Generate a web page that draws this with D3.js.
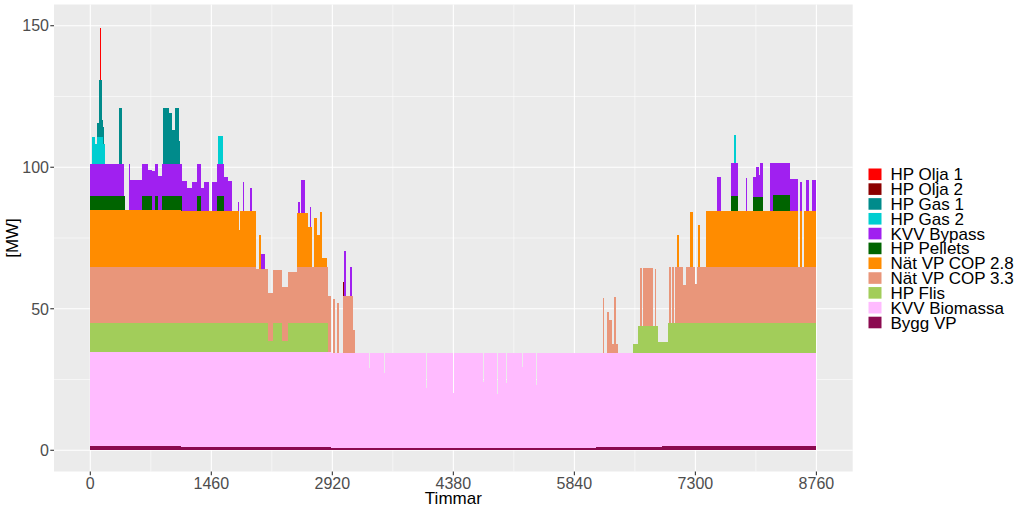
<!DOCTYPE html>
<html><head><meta charset="utf-8">
<script src="https://cdn.jsdelivr.net/npm/d3@7"></script>
<style>body{margin:0;background:#fff;} svg{display:block;font-family:"Liberation Sans",Arial,sans-serif;}</style>
</head><body><svg id="c" width="1024" height="512"></svg>
<script>
// ---- DATA: each series is a list of [hour, MW] steps (value holds until next step) ----
const seriesNames = ["Bygg VP","KVV Biomassa","HP Flis","Nät VP COP 3.3","Nät VP COP 2.8","HP Pellets","KVV Bypass","HP Gas 2","HP Gas 1","HP Olja 2","HP Olja 1"];
const seriesColors = ["#8B0A50","#FFBBFF","#A2CD5A","#E9967A","#FF8C00","#006400","#A020F0","#00CED1","#008B8B","#8B0000","#FF0000"];
const xTicks = [0,1460,2920,4380,5840,7300,8760];
const xMinor = [730,2190,3650,5110,6570,8030];
const yTicks = [0,50,100,150];
const yMinor = [25,75,125];

const byggVP = [[0,1.6],[1100,1.3],[2300,1.0],[2900,0.8],[6100,1.0],[6900,1.4]];
const kvvBiomassa = [[0,33.2],[1100,33.4],[2300,33.7],[2900,33.6],[3367,28.2],[3379,33.6],[3548,26.5],[3560,33.6],
  [4050,21.2],[4062,33.6],[4379,19.5],[4391,33.6],[4734,23.2],[4746,33.6],[4902,19.2],[4914,33.6],[5011,22.8],[5023,33.6],
  [5204,28.5],[5216,33.6],[5376,22.1],[5388,33.6],[6100,33.4],[6900,33.0]];
const hpFlis = [[0,10.2],[2140,4],[2200,10.2],[2310,4],[2380,10.2],[2865,0],[6548,3.3],[6610,9.6],[6850,3.9],[6970,10.4]];
const natVP33 = [[0,19.8],[2001,19.3],[2140,16.7],[2200,18.8],[2310,19.1],[2380,18.1],[2490,19.9],[2865,19.8],[2905,0],
  [2933,19.2],[2953,0],[2973,17.5],[3001,0],[3046,20.2],[3175,8],[3195,0],
  [6180,19.3],[6196,0],[6235,14.5],[6260,11.6],[6290,3],[6320,19.8],[6337,3],[6370,0],
  [6630,20.3],[6660,0],[6672,20.3],[6790,0],[6810,20],[6830,0],[6983,20],[7000,0],[7023,20],[7040,0],
  [7051,19.8],[7150,13.6],[7185,19.8],[7290,14],[7315,19.8]];
const natVP28 = [[0,20],[1790,13],[1802,20],[2001,0],[2030,11.8],[2060,0],[2491,19.2],[2632,14.2],[2672,0],[2700,17.2],
  [2732,11.2],[2772,19.5],[2793,3],[2853,0],
  [7080,11.5],[7100,0],[7230,19.7],[7270,0],[7330,15],[7350,0],[7425,20.1],[8540,0],[8560,20.1],[8590,0],[8610,20.1]];
const hpPellets = [[0,5.2],[422,0],[623,5.2],[744,0],[783,5.2],[812,0],[864,5.2],[1105,0],[1290,5.2],[1330,0],[1527,5.2],[1607,0],
  [7735,5.2],[7815,0],[7990,4.7],[8115,0],[8235,5.5],[8440,0]];
const kvvBypass = [[0,11.3],[402,0],[462,16.5],[482,10.6],[623,11.3],[700,9],[744,14],[783,11.3],[812,12],[864,11.3],
  [1105,10.6],[1165,8],[1225,10],[1290,11.3],[1330,8],[1374,10],[1426,0],[1466,10],[1527,11.3],[1607,12],[1667,10.6],
  [1708,0],[1776,3],[1788,0],[1840,10],[1860,0],[1928,8],[1953,0],[2060,5.3],[2110,0],[2510,3.8],[2530,0],[2545,11.5],
  [2592,0],[2652,7],[2665,0],[3065,15.9],[3082,0],[3134,10],[3154,0],
  [7555,11.8],[7615,0],[7735,11.5],[7815,0],[7905,11.4],[7925,0],[7990,7.3],[8035,10.8],[8065,8],[8075,12],[8115,0],
  [8205,16.9],[8235,11.4],[8440,11.1],[8540,0],[8560,10.2],[8590,0],[8630,10.8],[8665,0],[8705,10.8]];
const hpGas2 = [[20,9.4],[60,7],[84,9.4],[150,7],[181,0],[1539,10],[1600,0],[7765,10],[7795,0]];
const hpGas1 = [[80,4.8],[100,20.1],[141,6],[169,0],[341,19.8],[386,0],[876,19.8],[944,17.7],[985,12],[1025,19.5],[1065,8],[1085,0]];
const hpOlja2 = [[3046,5],[3062,0]];
const hpOlja1 = [[112,18.3],[129,0]];

const seriesData = [byggVP,kvvBiomassa,hpFlis,natVP33,natVP28,hpPellets,kvvBypass,hpGas2,hpGas1,hpOlja2,hpOlja1];
const hourMax = 8760, yMax = 150;

// ---- build table ----
function valueAt(arr, t){ let v = 0; for (const [h,val] of arr){ if (h <= t) v = val; else break; } return v; }
const bpSet = new Set([0]);
seriesData.forEach(a => a.forEach(([h]) => { if (h < hourMax) bpSet.add(h); }));
const bps = Array.from(bpSet).sort((a,b)=>a-b);
const rows = bps.map(t => { const r = {hour:t}; seriesNames.forEach((n,i)=> r[n] = valueAt(seriesData[i], t)); return r; });
const last = {hour:hourMax}; seriesNames.forEach((n,i)=> last[n] = valueAt(seriesData[i], hourMax-1e-6)); rows.push(last);

// ---- layout ----
const svg = d3.select("#c");
const P = {l:54, r:852.7, t:4.5, b:471.5};
const x = d3.scaleLinear().domain([-0.05*hourMax, 1.05*hourMax]).range([P.l, P.r]);
const y = d3.scaleLinear().domain([-0.05*yMax, 1.05*yMax]).range([P.b, P.t]);

svg.append("rect").attr("x",P.l).attr("y",P.t).attr("width",P.r-P.l).attr("height",P.b-P.t).attr("fill","#EBEBEB");
const g = svg.append("g");
yMinor.forEach(v=> g.append("line").attr("x1",P.l).attr("x2",P.r).attr("y1",y(v)).attr("y2",y(v)).attr("stroke","#fff").attr("stroke-width",0.55));
xMinor.forEach(v=> g.append("line").attr("y1",P.t).attr("y2",P.b).attr("x1",x(v)).attr("x2",x(v)).attr("stroke","#fff").attr("stroke-width",0.55));
yTicks.forEach(v=> g.append("line").attr("x1",P.l).attr("x2",P.r).attr("y1",y(v)).attr("y2",y(v)).attr("stroke","#fff").attr("stroke-width",1.1));
xTicks.forEach(v=> g.append("line").attr("y1",P.t).attr("y2",P.b).attr("x1",x(v)).attr("x2",x(v)).attr("stroke","#fff").attr("stroke-width",1.1));

const stacked = d3.stack().keys(seriesNames)(rows);
const area = d3.area().x(d=>x(d.data.hour)).y0(d=>y(d[0])).y1(d=>y(d[1])).curve(d3.curveStepAfter);
svg.append("g").selectAll("path").data(stacked).join("path")
  .attr("d", area).attr("fill",(d,i)=>seriesColors[i]).attr("shape-rendering","crispEdges");

// ---- axes ----
const ax = svg.append("g");
yTicks.forEach(v=>{
  ax.append("line").attr("x1",P.l-3.7).attr("x2",P.l).attr("y1",y(v)).attr("y2",y(v)).attr("stroke","#333").attr("stroke-width",1.1);
  ax.append("text").attr("x",P.l-5).attr("y",y(v)).attr("dy","0.36em").attr("text-anchor","end").attr("font-size",16).attr("fill","#4D4D4D").text(v);
});
xTicks.forEach(v=>{
  ax.append("line").attr("y1",P.b).attr("y2",P.b+3.7).attr("x1",x(v)).attr("x2",x(v)).attr("stroke","#333").attr("stroke-width",1.1);
  ax.append("text").attr("x",x(v)).attr("y",P.b+17).attr("text-anchor","middle").attr("font-size",16).attr("fill","#4D4D4D").text(v);
});
svg.append("text").attr("x",(P.l+P.r)/2).attr("y",504).attr("text-anchor","middle").attr("font-size",17).attr("fill","#000").text("Timmar");
svg.append("text").attr("transform",`translate(18,${(P.t+P.b)/2}) rotate(-90)`).attr("text-anchor","middle").attr("font-size",17).attr("fill","#000").text("[MW]");

// ---- legend (top of stack first) ----
const leg = svg.append("g");
const order = seriesNames.map((n,i)=>i).reverse();
order.forEach((si,k)=>{
  const cy = 174.3 + k*14.82;
  leg.append("rect").attr("x",868.5).attr("y",cy-5.8).attr("width",13).attr("height",11.6).attr("fill",seriesColors[si]);
  leg.append("text").attr("x",890.5).attr("y",cy+6).attr("font-size",17).attr("fill","#000").text(seriesNames[si]);
});
</script></body></html>
